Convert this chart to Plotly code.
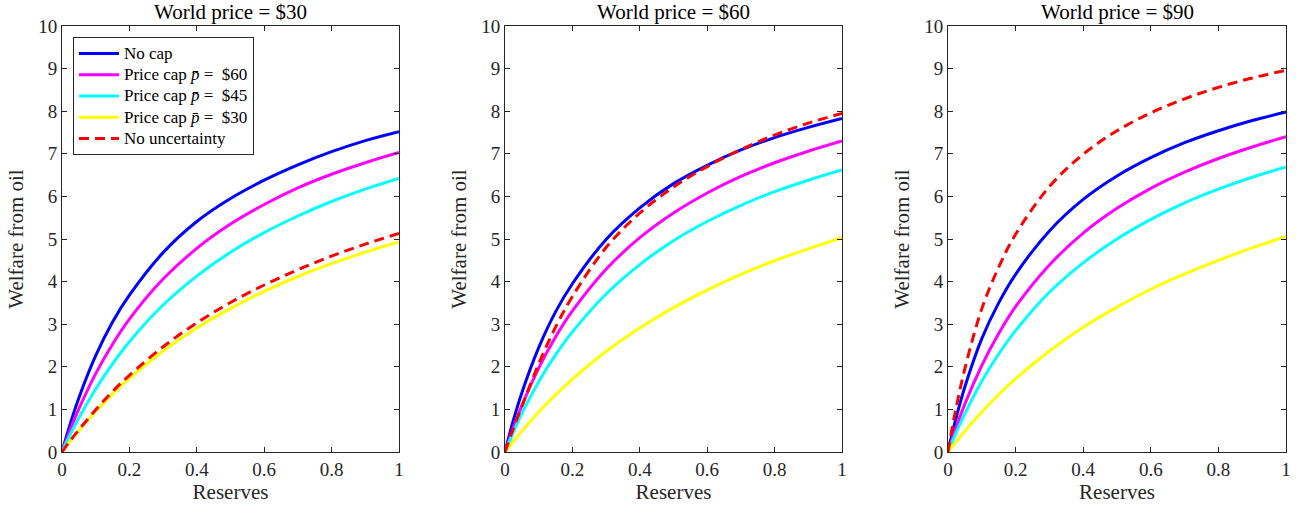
import plotly.graph_objects as go

# Reserves (x values at which curves were read)
reserves = [0, 0.02, 0.05, 0.1, 0.15, 0.2, 0.3, 0.4, 0.5, 0.6, 0.7, 0.8, 0.9, 1.0]

titles = ["World price = $30", "World price = $60", "World price = $90"]
series_names = ["No cap",
                "Price cap <i>p̄</i> =\u00a0\u00a0$60",
                "Price cap <i>p̄</i> =\u00a0\u00a0$45",
                "Price cap <i>p̄</i> =\u00a0\u00a0$30",
                "No uncertainty"]

# World price = $30
p30_nocap = [0, 0.55, 1.27, 2.26, 3.05, 3.68, 4.68, 5.41, 5.95, 6.38, 6.74, 7.05, 7.31, 7.52]
p30_cap60 = [0, 0.43, 1.01, 1.84, 2.53, 3.12, 4.06, 4.78, 5.35, 5.81, 6.20, 6.52, 6.79, 7.03]
p30_cap45 = [0, 0.34, 0.80, 1.48, 2.07, 2.59, 3.45, 4.13, 4.69, 5.15, 5.54, 5.88, 6.17, 6.42]
p30_cap30 = [0, 0.21, 0.50, 0.95, 1.36, 1.73, 2.37, 2.91, 3.37, 3.77, 4.12, 4.42, 4.69, 4.93]
p30_nounc = [0, 0.22, 0.52, 0.99, 1.42, 1.80, 2.47, 3.03, 3.51, 3.92, 4.28, 4.60, 4.88, 5.13]

# World price = $60
p60_nocap = [0, 0.61, 1.39, 2.45, 3.29, 3.95, 4.99, 5.73, 6.30, 6.73, 7.09, 7.38, 7.62, 7.83]
p60_cap60 = [0, 0.46, 1.09, 1.97, 2.70, 3.31, 4.29, 5.03, 5.61, 6.08, 6.47, 6.79, 7.06, 7.30]
p60_cap45 = [0, 0.38, 0.90, 1.65, 2.28, 2.82, 3.71, 4.40, 4.96, 5.41, 5.79, 6.11, 6.38, 6.62]
p60_cap30 = [0, 0.20, 0.49, 0.94, 1.34, 1.71, 2.36, 2.91, 3.39, 3.80, 4.17, 4.49, 4.77, 5.03]
p60_nounc = [0, 0.45, 1.07, 2.07, 2.93, 3.65, 4.80, 5.61, 6.22, 6.70, 7.10, 7.44, 7.72, 7.95]

# World price = $90
p90_nocap = [0, 0.68, 1.53, 2.66, 3.50, 4.17, 5.19, 5.93, 6.48, 6.91, 7.26, 7.54, 7.78, 7.98]
p90_cap60 = [0, 0.48, 1.13, 2.03, 2.78, 3.41, 4.39, 5.14, 5.72, 6.19, 6.57, 6.89, 7.16, 7.40]
p90_cap45 = [0, 0.38, 0.90, 1.66, 2.30, 2.85, 3.75, 4.44, 5.00, 5.46, 5.85, 6.17, 6.45, 6.69]
p90_cap30 = [0, 0.20, 0.49, 0.94, 1.35, 1.72, 2.37, 2.93, 3.40, 3.82, 4.18, 4.50, 4.79, 5.06]
p90_nounc = [0, 0.88, 1.96, 3.36, 4.34, 5.11, 6.23, 6.99, 7.54, 7.96, 8.29, 8.56, 8.78, 8.96]

panels = [
    [p30_nocap, p30_cap60, p30_cap45, p30_cap30, p30_nounc],
    [p60_nocap, p60_cap60, p60_cap45, p60_cap30, p60_nounc],
    [p90_nocap, p90_cap60, p90_cap45, p90_cap30, p90_nounc],
]

colors = ["#0000FF", "#FF00FF", "#00FFFF", "#FFFF00", "#FF0000"]
dashes = ["solid", "solid", "solid", "solid", "10px,6px"]

W, H = 1304, 507
x_px = [(62, 399), (505, 842), (948, 1286)]
y_px = (26, 452)

FONT = "Liberation Serif, DejaVu Serif, serif"
AX = "#262626"

fig = go.Figure()
for p, series in enumerate(panels):
    for s, vals in enumerate(series):
        fig.add_trace(go.Scatter(
            x=reserves, y=vals, mode="lines",
            line=dict(color=colors[s], width=3, dash=dashes[s], shape="spline", smoothing=1.0),
            name=f"<span style='font-size:17px'>{series_names[s]}</span>",
            showlegend=(p == 0),
            xaxis="x" if p == 0 else f"x{p+1}",
            yaxis="y" if p == 0 else f"y{p+1}",
        ))

layout = dict(
    template="none",
    width=W, height=H,
    margin=dict(l=0, r=0, t=0, b=0, autoexpand=False),
    paper_bgcolor="white", plot_bgcolor="white",
    font=dict(family=FONT, color=AX),
    showlegend=True,
    legend=dict(
        x=73 / W, y=1 - 37 / H, xanchor="left", yanchor="top",
        bgcolor="white", bordercolor=AX, borderwidth=1,
        font=dict(family=FONT, size=14, color="black"),
        tracegroupgap=0, itemwidth=40,
    ),
    annotations=[],
)
ydom = [1 - y_px[1] / H, 1 - y_px[0] / H]
for p in range(3):
    sx = "" if p == 0 else str(p + 1)
    xd = [x_px[p][0] / W, x_px[p][1] / W]
    layout["xaxis" + sx] = dict(
        domain=xd, range=[0, 1], anchor="y" + sx, automargin=False,
        tickvals=[0, 0.2, 0.4, 0.6, 0.8, 1], ticktext=["0", "0.2", "0.4", "0.6", "0.8", "1"],
        showgrid=False, zeroline=False, showline=True, mirror="ticks",
        linecolor=AX, linewidth=1, ticks="inside", ticklen=5, tickcolor=AX,
        tickfont=dict(family=FONT, size=19, color=AX),
        title=dict(text="Reserves", font=dict(family=FONT, size=21, color=AX), standoff=4),
        fixedrange=True,
    )
    layout["yaxis" + sx] = dict(
        domain=ydom, range=[0, 10], anchor="x" + sx, automargin=False,
        tickvals=list(range(11)),
        showgrid=False, zeroline=False, showline=True, mirror="ticks",
        linecolor=AX, linewidth=1, ticks="inside", ticklen=5, tickcolor=AX,
        tickfont=dict(family=FONT, size=19, color=AX),
        title=dict(text="Welfare from oil", font=dict(family=FONT, size=21, color=AX), standoff=8),
        fixedrange=True,
    )
    layout["annotations"].append(dict(
        text=titles[p], xref="paper", yref="paper",
        x=(xd[0] + xd[1]) / 2, y=1 - 11.5 / H, xanchor="center", yanchor="middle",
        showarrow=False, borderpad=0, font=dict(family=FONT, size=21, color="black"),
    ))

fig.update_layout(**layout)
fig.write_html("out.html")
